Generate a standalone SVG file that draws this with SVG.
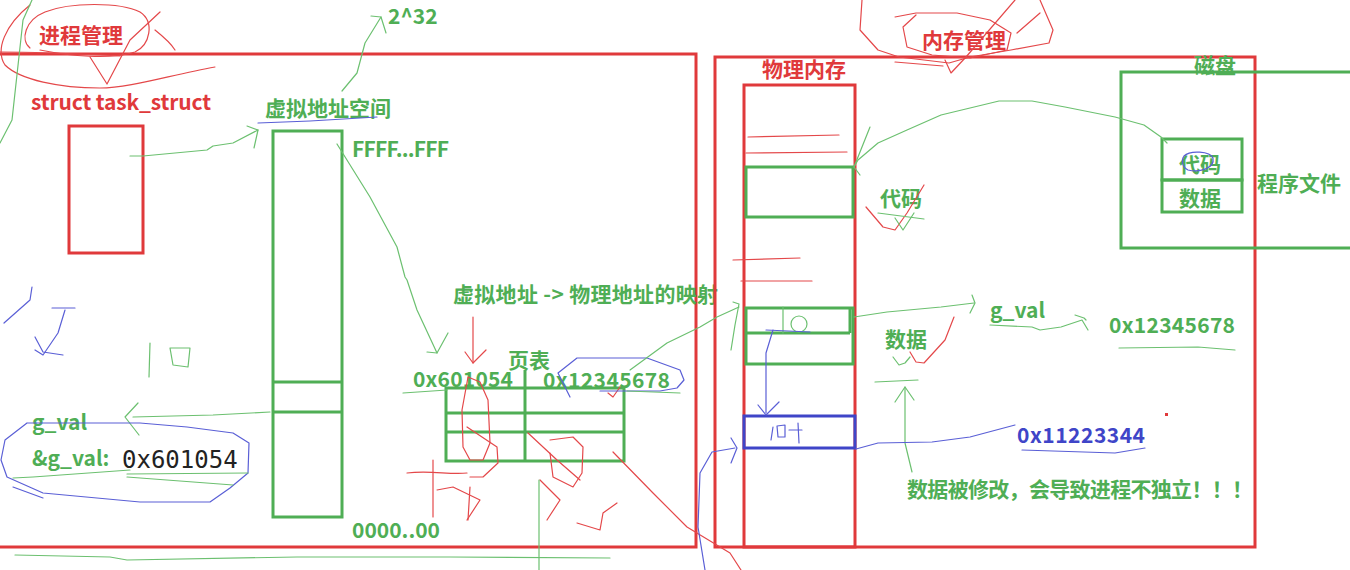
<svg xmlns="http://www.w3.org/2000/svg" width="1350" height="570" viewBox="0 0 1350 570">
<defs>
<style>
.t{font-family:"Microsoft YaHei","Noto Sans CJK SC",sans-serif;font-weight:bold;font-size:21px}
.r{fill:#e0393b}
.g{fill:#4fae55}
.b{fill:#3f45c8}
.box{fill:none;stroke-width:3}
.rb{stroke:#e0393b}
.gb{stroke:#4fae55}
.bb{stroke:#3f45c8}
.h{fill:none;stroke-width:1.2;stroke-linecap:round;stroke-linejoin:round}
.hr{stroke:#e4484a}
.hg{stroke:#6cc070}
.hb{stroke:#5a5fd6}
.mono{font-family:"DejaVu Sans Mono",monospace;font-size:24px;fill:#222}
</style>
</defs>
<rect width="1350" height="570" fill="#fff"/>

<g id="process-mgmt">
<rect class="box rb" x="-3" y="54" width="699" height="493"/>
<text class="t r" x="39" y="43">进程管理</text>
</g>
<g id="task-struct">
<text class="t r" x="31" y="110" textLength="180">struct task_struct</text>
<rect class="box rb" x="69" y="126" width="74" height="127"/>
</g>
<g id="vas">
<text class="t g" x="265" y="116">虚拟地址空间</text>
<rect class="box gb" x="273" y="131" width="69" height="386"/>
<line class="box gb" x1="273" y1="382" x2="342" y2="382"/>
<line class="box gb" x1="273" y1="412" x2="342" y2="412"/>
<text class="t g" x="388" y="24">2^32</text>
<text class="t g" x="352" y="157" textLength="97">FFFF...FFF</text>
<text class="t g" x="352" y="538" textLength="88">0000..00</text>
</g>
<g id="gval-left">
<text class="t g" x="32" y="430">g_val</text>
<text class="t g" x="32" y="466">&amp;g_val:</text>
<text class="mono" x="122" y="468">0x601054</text>
</g>
<g id="page-table">
<text class="t g" x="453" y="302" textLength="265">虚拟地址 -&gt; 物理地址的映射</text>
<text class="t g" x="508" y="368">页表</text>
<text class="t g" x="413" y="387" textLength="100">0x601054</text>
<text class="t g" x="543" y="388" textLength="127">0x12345678</text>
<rect class="box gb" x="446" y="388" width="178" height="73"/>
<line class="box gb" x1="446" y1="413" x2="624" y2="413"/>
<line class="box gb" x1="446" y1="432" x2="624" y2="432"/>
<line class="box gb" x1="525" y1="370" x2="525" y2="461"/>
</g>

<g id="memory-mgmt">
<rect class="box rb" x="715" y="57" width="540" height="490"/>
<text class="t r" x="922" y="48">内存管理</text>
</g>
<g id="phys-mem">
<text class="t r" x="762" y="77">物理内存</text>
<rect class="box rb" x="744" y="85" width="111" height="462"/>
<rect class="box gb" x="746" y="167" width="107" height="50"/>
<rect class="box gb" x="746" y="308" width="107" height="56"/>
<line class="box gb" x1="746" y1="333" x2="850" y2="333"/>
<line class="box gb" x1="850" y1="308" x2="850" y2="333"/>
<rect class="box bb" x="744" y="416" width="111" height="32"/>
<text class="t g" x="880" y="206">代码</text>
<text class="t g" x="885" y="347">数据</text>
</g>
<g id="disk">
<rect class="box gb" x="1121" y="72" width="240" height="176"/>
<text class="t g" x="1194" y="73">磁盘</text>
<rect class="box gb" x="1162" y="139" width="80" height="41"/>
<rect class="box gb" x="1162" y="180" width="80" height="32"/>
<text class="t g" x="1179" y="172">代码</text>
<text class="t g" x="1179" y="206">数据</text>
<text class="t g" x="1257" y="191">程序文件</text>
</g>
<g id="mapping-right">
<text class="t g" x="990" y="318">g_val</text>
<text class="t g" x="1109" y="333" textLength="126">0x12345678</text>
<text class="t b" x="1017" y="443" textLength="128">0x11223344</text>
<text class="t g" x="907" y="497" textLength="346">数据被修改，会导致进程不独立！！！</text>
</g>

<g id="connectors">
<!-- red scribbles around 进程管理 -->
<path class="h hr" d="M215,67 C170,75 130,88 100,88 C60,88 20,80 5,65 C-5,50 5,25 30,5"/>
<path class="h hr" d="M30,48 C20,40 25,20 45,12 C70,2 120,2 140,12 C155,22 150,45 135,52 C110,60 70,56 40,50"/>
<path class="h hr" d="M90,57 L107,84 L130,40 L160,12"/>
<path class="h hr" d="M155,30 C165,38 172,45 175,50"/>
<path class="h hr" d="M0,52 C40,52 80,54 120,56"/>
<!-- green left line -->
<path class="h hg" d="M32,0 L23,20 L12,120 L0,143"/>
<!-- task_struct -> VAS -->
<path class="h hg" d="M130,156 L143,156 L207,150 L213,146 L233,143 L258,130"/>
<path class="h hg" d="M247,126 L258,130 L254,148"/>
<!-- to 2^32 -->
<path class="h hg" d="M342,91 L357,73 L365,43 L373,30 L381,17"/>
<path class="h hg" d="M371,16 L381,17 L386,33"/>
<path class="h hb" d="M258,123 L310,121 L377,117"/>
<!-- FFFF -> page table -->
<path class="h hg" d="M337,144 L370,197 L397,247 L405,277 L407,280 L417,310 L437,353"/>
<path class="h hg" d="M427,352 L437,353 L448,333"/>
<!-- blue scribble -->
<path class="h hb" d="M32,287 L30,300 L4,323"/>
<path class="h hb" d="M52,308 L75,308"/>
<path class="h hb" d="M65,310 L58,333 L43,355 L35,350"/>
<path class="h hb" d="M35,337 L43,352 L63,355"/>
<!-- green 10 -->
<path class="h hg" d="M150,343 L149,377"/>
<path class="h hg" d="M170,348 L190,348 L188,367 L173,365 Z"/>
<!-- VAS -> g_val -->
<path class="h hg" d="M270,412 L213,415 L133,417"/>
<path class="h hg" d="M138,403 L125,417 L139,435"/>
<!-- blue ellipse around g_val -->
<path class="h hb" d="M27,423 L140,423 L187,427 L233,433 L249,443 L248,473 L230,488 L210,502 L140,502 L43,493 L7,477 L1,460 L5,440 L27,423"/>
<path class="h hb" d="M43,498 L13,487"/>
<path class="h hg" d="M13,478 L33,477 L130,470"/>
<path class="h hg" d="M127,477 L233,485"/>
<path class="h hg" d="M127,474 L248,473"/>
<!-- bottom green line -->
<path class="h hg" d="M15,555 L110,557 L127,560 L297,557 L450,557 L610,558"/>
<!-- red down arrow -->
<path class="h hr" d="M473,317 L473,363"/>
<path class="h hr" d="M465,352 L473,363 L486,350"/>
<path class="h hg" d="M403,393 L447,390"/>
<!-- red scribble 打印 -->
<path class="h hr" d="M407,473 C430,470 450,475 467,473"/>
<path class="h hr" d="M433,460 L433,517"/>
<path class="h hr" d="M468,377 L462,410 L463,447 L470,460 L483,460 L490,443 L488,400 L480,382 Z"/>
<path class="h hr" d="M467,427 L497,447 L498,463 L483,477 L470,477"/>
<path class="h hr" d="M437,490 L453,487 L480,500 L467,520"/>
<path class="h hr" d="M470,487 L468,520"/>
<!-- red scribble 内存 -->
<path class="h hr" d="M528,433 L557,460 L580,480"/>
<path class="h hr" d="M550,440 L573,437 L583,447 L582,473 L573,487 L553,477 L550,453"/>
<path class="h hr" d="M540,480 L560,500 L547,520"/>
<path class="h hr" d="M577,523 L600,530 L603,513 L617,503"/>
<path class="h hr" d="M613,452 L653,493 L687,527 L730,553 L741,570"/>
<path class="h hr" d="M620,387 L613,397 L608,393"/>
<!-- blue ellipse 0x12345678 -->
<path class="h hb" d="M570,397 L558,373 L577,358 L647,358 L680,370 L684,380 L677,388 L660,391 L600,391"/>
<path class="h hg" d="M627,391 L680,393"/>
<!-- page table -> phys -->
<path class="h hg" d="M630,370 L667,343 L700,327 L717,317 L739,307"/>
<path class="h hg" d="M733,302 L739,304 L735,325 L731,350"/>
<path class="h hg" d="M539,480 L539,570"/>
<!-- blue curve bottom -->
<path class="h hb" d="M705,570 L698,527 L700,473 L712,452 L735,448"/>
<path class="h hb" d="M731,438 L737,448 L731,463"/>
<!-- red lines in phys mem -->
<path class="h hr" d="M748,137 L839,135"/>
<path class="h hr" d="M746,153 L847,152"/>
<path class="h hr" d="M733,260 L800,258"/>
<path class="h hr" d="M741,281 L812,281"/>
<!-- red scribble 内存管理 -->
<path class="h hr" d="M862,0 L860,30 L878,50 L899,57 L949,63 L970,57 L1011,50 L1049,43 L1053,30 L1040,0"/>
<path class="h hr" d="M895,17 L916,13 L957,13 L990,20 L1011,33 L1007,50 L970,58 L932,55 L907,47 L903,27 L916,15"/>
<path class="h hr" d="M895,62 L943,66"/>
<path class="h hr" d="M945,60 L951,73 L966,57 L1015,0"/>
<path class="h hr" d="M1017,33 L1040,13"/>
<!-- disk -> code -->
<path class="h hg" d="M1167,143 L1161,137 L1144,125 L1115,117 L1065,107 L1032,101 L999,101 L970,108 L941,115 L907,130 L878,143 L858,160 L854,167"/>
<path class="h hg" d="M870,127 L854,167 L860,175"/>
<path class="h hb" d="M1184,156 C1190,150 1210,151 1213,158 C1215,168 1200,173 1188,170 C1182,167 1181,160 1184,156"/>
<path class="h hr" d="M866,207 L883,227 L895,230 L907,213 L924,185"/>
<path class="h hg" d="M878,213 L924,219"/>
<path class="h hg" d="M895,218 L903,230 L914,213"/>
<!-- data -> g_val -> value -->
<path class="h hg" d="M854,317 L887,312 L941,307 L974,303"/>
<path class="h hg" d="M972,295 L975,303 L970,313"/>
<path class="h hg" d="M990,325 L1032,327 L1040,330 L1061,327 L1082,320 L1088,330"/>
<path class="h hg" d="M1075,315 L1084,318 L1086,320"/>
<path class="h hg" d="M1119,348 L1198,347 L1235,350"/>
<path class="h hr" d="M910,352 L916,362 L924,363 L945,340 L954,317"/>
<path class="h hg" d="M893,357 L899,365 L905,363 L910,357"/>
<path class="h hg" d="M875,382 L918,380"/>
<path class="h hg" d="M912,472 L905,443 L905,387"/>
<path class="h hg" d="M895,402 L905,387 L914,400"/>
<!-- handwritten values in phys mem -->
<path class="h hg" d="M783,307 L783,333"/>
<ellipse class="h hg" cx="799" cy="324" rx="8" ry="8"/>
<path class="h hb" d="M766,330 L810,332"/>
<path class="h hb" d="M773,330 L766,353 L766,413"/>
<path class="h hb" d="M758,405 L766,415 L779,402"/>
<path class="h hb" d="M773,427 L771,440"/>
<path class="h hb" d="M777,426 L785,425 L785,437 L778,437 Z"/>
<path class="h hb" d="M789,430 L802,430"/>
<path class="h hb" d="M798,423 L799,443"/>
<!-- phys -> 0x11223344 -->
<path class="h hb" d="M856,449 L878,443 L932,442 L970,437 L1015,425"/>
<path class="h hb" d="M1022,450 L1115,453 L1145,448"/>
<rect x="1165" y="413" width="3" height="3" fill="#e0393b"/>
</g>
</svg>
